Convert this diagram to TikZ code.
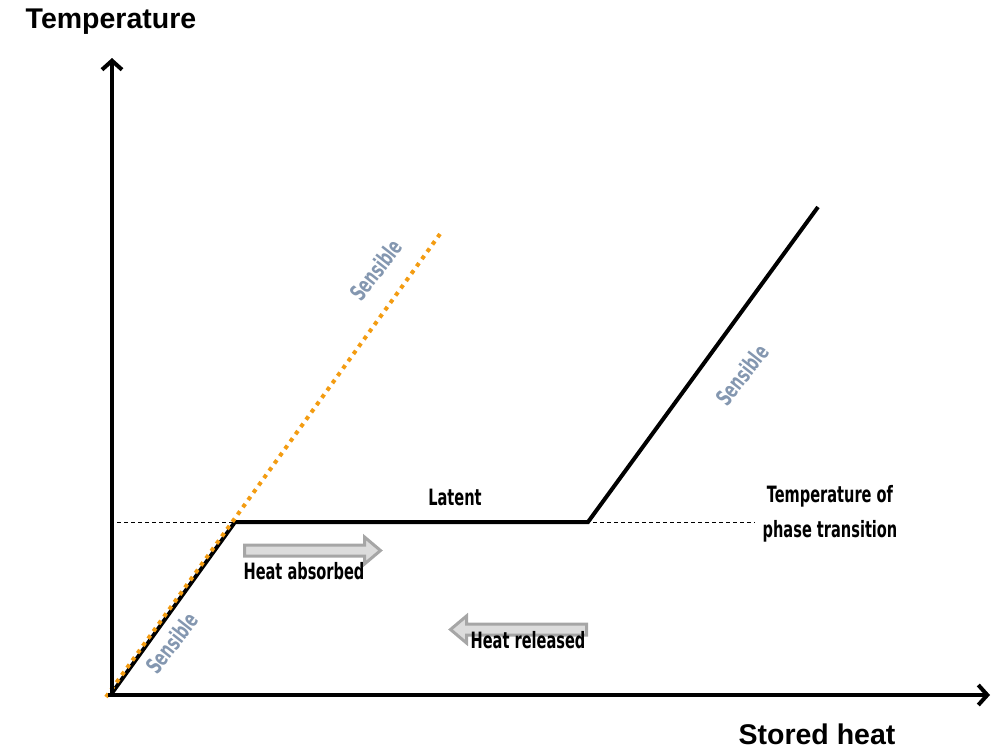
\documentclass[tikz,border=0pt]{standalone}
\usepackage{fontspec}
\setmainfont{Liberation Sans}
\newfontfamily\agency[FakeStretch=0.72]{DejaVu Sans Condensed}
\usetikzlibrary{arrows.meta}
\definecolor{sensc}{HTML}{8497B0}
\definecolor{orangec}{HTML}{F39C12}
\definecolor{arrfill}{HTML}{DCDCDC}
\definecolor{arrdraw}{HTML}{A6A6A6}
\tikzset{
  axis/.style={line width=4pt,-{Straight Barb[length=9pt,width=20pt,line width=4pt]}},
  curve/.style={line width=4pt,line join=miter},
  lbl/.style={font=\agency\bfseries\fontsize{22.5}{26}\selectfont,inner sep=0pt},
  sens/.style={lbl,text=sensc,rotate=52},
  bigarrow/.style={draw=arrdraw,fill=arrfill,line width=3pt,line join=miter},
  axlbl/.style={font=\bfseries\fontsize{28.5}{32}\selectfont,inner sep=0pt},
}
\begin{document}
\begin{tikzpicture}[x=1pt,y=-1pt]
\useasboundingbox (0,0) rectangle (991,750);
\coordinate (O) at (112,693);
\coordinate (Oo) at (106,697);
\coordinate (ytip) at (112,58);
\coordinate (xtip) at (990,695);
\coordinate (A) at (235,522);
\coordinate (B) at (588,522);
\coordinate (C) at (818,207);
\coordinate (D) at (440,234);
\coordinate (dl) at (110,522);
\coordinate (dr) at (755,522);
\draw[dashed,line width=1pt,dash pattern=on 4pt off 3pt] (dl) -- (dr);
\draw[curve] (O) -- (A) -- (B) -- (C);
\draw[orangec,line width=4pt,dash pattern=on 4pt off 5pt] (Oo) -- (D);
\draw[axis] (112,695) -- (ytip);
\draw[axis] (108,695) -- (xtip);
\node[axlbl] (ty) at (111,22) {Temperature};
\node[axlbl] (tx) at (817,734) {Stored heat};
\node[lbl] (lat) at (455,497) {Latent};
\node[lbl,align=center] (tpt) at (830,514) {Temperature of\\[9pt]phase transition};
% heat absorbed arrow
\coordinate (ha) at (244.5,545);
\draw[bigarrow] (ha) -- ++(120,0) -- ++(0,-8) -- ++(16,13.5) -- ++(-16,13.5) -- ++(0,-8) -- ++(-120,0) -- cycle;
\node[lbl] (hat) at (304,571) {Heat absorbed};
% heat released arrow
\coordinate (hr) at (586.5,624);
\draw[bigarrow] (hr) -- ++(-120,0) -- ++(0,-8) -- ++(-16,13.5) -- ++(16,13.5) -- ++(0,-8) -- ++(120,0) -- cycle;
\node[lbl] (hrt) at (528,640) {Heat released};
\node[sens] (s1) at (172,643) {Sensible};
\node[sens] (s2) at (376,270) {Sensible};
\node[sens] (s3) at (742,375) {Sensible};
\end{tikzpicture}
\end{document}
